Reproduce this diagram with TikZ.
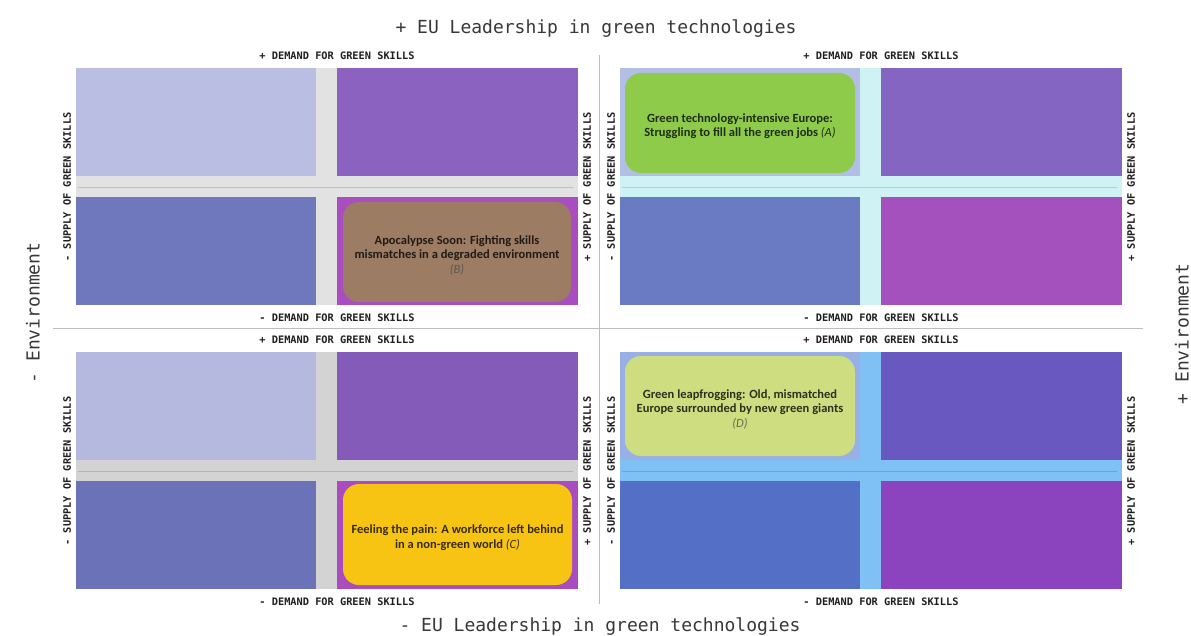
\documentclass[tikz,border=0pt]{standalone}
\usepackage{fontspec}
\setmainfont{Carlito}
\newfontfamily\monofont{DejaVu Sans Mono}
\definecolor{bandA}{HTML}{E2E2E2}
\definecolor{bandB}{HTML}{CFF3F5}
\definecolor{bandC}{HTML}{D3D3D3}
\definecolor{bandD}{HTML}{80C1F5}
\definecolor{aTL}{HTML}{BBBEE3}\definecolor{aTR}{HTML}{8B62C0}\definecolor{aBL}{HTML}{6F77BD}\definecolor{aBR}{HTML}{A94EC1}
\definecolor{bTL}{HTML}{B2BEE6}\definecolor{bTR}{HTML}{8466C2}\definecolor{bBL}{HTML}{6A7BC4}\definecolor{bBR}{HTML}{A450BD}
\definecolor{cTL}{HTML}{B5B8DF}\definecolor{cTR}{HTML}{855BB9}\definecolor{cBL}{HTML}{6B72B8}\definecolor{cBR}{HTML}{A84CC0}
\definecolor{dTL}{HTML}{98B0E5}\definecolor{dTR}{HTML}{6A58C1}\definecolor{dBL}{HTML}{5470C6}\definecolor{dBR}{HTML}{8B43BE}
\definecolor{boxB}{HTML}{9C7C63}
\definecolor{boxA}{HTML}{8ECB4A}
\definecolor{boxC}{HTML}{F8C414}
\definecolor{boxD}{HTML}{CEDD7F}
\definecolor{titlegray}{HTML}{383838}
\definecolor{divgray}{HTML}{BDBDBD}
\tikzset{
  smalllab/.style={inner sep=0, text=black!88, font=\monofont\bfseries\fontsize{10.3}{12}\selectfont},
  biglab/.style={inner sep=0, text=titlegray, font=\monofont\fontsize{18}{20}\selectfont},
  scenbox/.style={rounded corners=16pt, inner sep=0, minimum width=#1},
  scentext/.style={inner sep=0, align=center, text=black, text opacity=0.78, font=\bfseries\fontsize{12.5}{14.5}\selectfont},
  divider/.style={draw=divgray, line width=1pt}
}
\newcommand\myquadrant[8]{%
\begin{scope}[shift={(#2,#3)}]
\fill[#4] (76,68) rectangle (578,305);
\fill[#5] (76,68) rectangle (316,176);
\fill[#6] (337,68) rectangle (578,176);
\fill[#7] (76,197) rectangle (316,305);
\fill[#8] (337,197) rectangle (578,305);
\draw[#4!85!black, line width=0.8pt] (78,187) -- (573,187);
\node[smalllab] (#1-dp) at (337,56) {+ DEMAND FOR GREEN SKILLS};
\node[smalllab] (#1-dm) at (337,318) {- DEMAND FOR GREEN SKILLS};
\node[smalllab,rotate=90] (#1-sm) at (67,187) {- SUPPLY OF GREEN SKILLS};
\node[smalllab,rotate=90] (#1-sp) at (587,187) {+ SUPPLY OF GREEN SKILLS};
\end{scope}}
\begin{document}
\begin{tikzpicture}[x=1pt,y=-1pt]
\useasboundingbox (0,0) rectangle (1191,636);
\fill[white] (0,0) rectangle (1191,636);
% dividers
\coordinate (hl) at (53,328);
\coordinate (hr) at (1143,328);
\coordinate (vt) at (599,55);
\coordinate (vb) at (599,604);
\draw[divider] (hl) -- (hr);
\draw[divider] (vt) -- (vb);
% quadrants
\myquadrant{qa}{0}{0}{bandA}{aTL}{aTR}{aBL}{aBR}
\myquadrant{qb}{544}{0}{bandB}{bTL}{bTR}{bBL}{bBR}
\myquadrant{qc}{0}{284}{bandC}{cTL}{cTR}{cBL}{cBR}
\myquadrant{qd}{544}{284}{bandD}{dTL}{dTR}{dBL}{dBR}
% scenario boxes
\node[scenbox=228pt, minimum height=100pt, fill=boxB] (B) at (457,252) {};
\node[scenbox=230pt, minimum height=100pt, fill=boxA] (A) at (740,123) {};
\node[scenbox=229pt, minimum height=101pt, fill=boxC] (C) at (457.5,534.5) {};
\node[scenbox=230pt, minimum height=100pt, fill=boxD] (D) at (740,406) {};
\node[scentext] (Bt) at ([yshift=-3pt]B.center) {Apocalypse Soon: Fighting skills\\mismatches in a degraded environment\\{\mdseries\itshape\color{black!70}(B)}};
\node[scentext] (At) at ([yshift=-3pt]A.center) {Green technology-intensive Europe:\\Struggling to fill all the green jobs {\mdseries\itshape (A)}};
\node[scentext] (Ct) at ([yshift=-3pt]C.center) {Feeling the pain: A workforce left behind\\in a non-green world {\mdseries\itshape (C)}};
\node[scentext] (Dt) at ([yshift=-3pt]D.center) {Green leapfrogging: Old, mismatched\\Europe surrounded by new green giants\\{\mdseries\itshape\color{black!70}(D)}};
% axis titles
\node[biglab] (top) at (596,29) {+ EU Leadership in green technologies};
\node[biglab] (bottom) at (600,627) {- EU Leadership in green technologies};
\node[biglab,rotate=90] (left) at (33,313) {- Environment};
\node[biglab,rotate=90] (right) at (1182,334) {+ Environment};
\end{tikzpicture}
\end{document}
